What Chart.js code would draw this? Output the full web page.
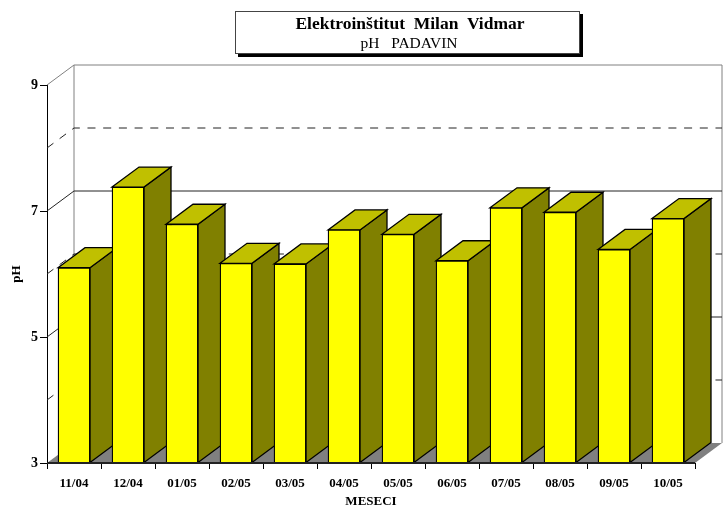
<!DOCTYPE html>
<html>
<head>
  <title>pH padavin</title>
  <script src="https://cdn.jsdelivr.net/npm/chart.js"></script>
  <style>
    body { margin: 0; background: #fff; }
    #wrap { position: relative; width: 723px; height: 509px; overflow: hidden; }
    #titleBox {
      position: absolute;
      left: 235px;
      top: 11px;
      width: 343px;
      height: 41px;
      border: 1px solid #444;
      background: #fff;
      box-shadow: 3px 3px 0 #000;
      text-align: center;
      font-family: "Liberation Serif", serif;
      color: #000;
      white-space: pre;
    }
    #titleBox .l1 { font-weight: bold; font-size: 17.5px; line-height: 20px; margin-top: 1px; padding-left: 5px; }
    #titleBox .l2 { font-size: 15.5px; line-height: 19px; word-spacing: 2px; padding-left: 3px; }
  </style>
</head>
<body>
  <div id="wrap">
    <div id="titleBox"><div class="l1">Elektroinštitut  Milan  Vidmar</div><div class="l2">pH  PADAVIN</div></div>
    <canvas id="chart" width="723" height="509"></canvas>
  </div>

  <script>
    const months = ['11/04', '12/04', '01/05', '02/05', '03/05', '04/05', '05/05', '06/05', '07/05', '08/05', '09/05', '10/05'];
    const phValues = [6.10, 7.38, 6.79, 6.17, 6.16, 6.70, 6.63, 6.21, 7.05, 6.98, 6.39, 6.88];
    const solidLines = [5, 7];
    const dashedLines = [4, 6, 8];

    // depth of the fake 3D box, in pixels
    const depthX = 27;
    const depthY = -20;

    function poly(ctx, pts, fill, stroke, lw) {
      ctx.beginPath();
      pts.forEach((p, i) => i ? ctx.lineTo(p[0], p[1]) : ctx.moveTo(p[0], p[1]));
      ctx.closePath();
      if (fill) { ctx.fillStyle = fill; ctx.fill(); }
      if (stroke) { ctx.strokeStyle = stroke; ctx.lineWidth = lw; ctx.stroke(); }
    }

    function wallLine(c, area, yPx, color, dash) {
      c.save();
      c.strokeStyle = color;
      c.lineWidth = 1;
      c.setLineDash(dash || []);
      c.beginPath();
      c.moveTo(area.left, yPx);
      c.lineTo(area.left + depthX, yPx + depthY);
      c.lineTo(area.right + depthX, yPx + depthY);
      c.stroke();
      c.restore();
    }

    const box3d = {
      id: 'box3d',
      beforeDatasetsDraw(chart) {
        const c = chart.ctx, a = chart.chartArea, y = chart.scales.y;
        const top = y.getPixelForValue(9), bottom = y.getPixelForValue(3);

        // floor
        poly(c, [[a.left, bottom], [a.left + depthX, bottom + depthY], [a.right + depthX, bottom + depthY], [a.right, bottom]], '#808080', null);

        // walls outline
        c.strokeStyle = '#808080';
        c.lineWidth = 1;
        c.beginPath();
        c.moveTo(a.left, top);
        c.lineTo(a.left + depthX, top + depthY);
        c.lineTo(a.right + depthX, top + depthY);
        c.lineTo(a.right + depthX, bottom + depthY);
        c.moveTo(a.left + depthX, top + depthY);
        c.lineTo(a.left + depthX, bottom + depthY);
        c.stroke();

        solidLines.forEach(v => wallLine(c, a, y.getPixelForValue(v), '#222'));
        dashedLines.forEach(v => wallLine(c, a, y.getPixelForValue(v), '#222', [8, 7.7]));

        // sides and tops of the bars, left to right
        chart.getDatasetMeta(0).data.forEach(bar => {
          const l = bar.x - bar.width / 2, r = bar.x + bar.width / 2;
          poly(c, [[r, bar.y], [r + depthX, bar.y + depthY], [r + depthX, bar.base + depthY], [r, bar.base]], '#808000', '#000', 1.3);
          poly(c, [[l, bar.y], [l + depthX, bar.y + depthY], [r + depthX, bar.y + depthY], [r, bar.y]], '#C0C000', '#000', 1.3);
        });
      },
      afterDatasetsDraw(chart) {
        const c = chart.ctx, a = chart.chartArea;
        c.strokeStyle = '#222';
        c.lineWidth = 2;
        c.beginPath();
        c.moveTo(a.left, a.bottom);
        c.lineTo(a.right, a.bottom);
        c.stroke();
      }
    };

    const chart = new Chart(document.getElementById('chart').getContext('2d'), {
      type: 'bar',
      data: {
        labels: months,
        datasets: [{
          data: phValues,
          base: 3,
          backgroundColor: '#FFFF00',
          borderColor: '#000',
          borderWidth: 1.3,
          barThickness: 32
        }]
      },
      options: {
        responsive: false,
        animation: false,
        layout: { padding: { top: 85, right: 28, left: 0, bottom: 0 } },
        plugins: { legend: { display: false }, tooltip: { enabled: false } },
        scales: {
          x: {
            afterFit: s => { s.height = 46; },
            grid: { drawOnChartArea: false, tickLength: 6, color: '#000', offset: true },
            border: { color: '#000', width: 1 },
            ticks: {
              color: '#000',
              maxRotation: 0,
              autoSkip: false,
              padding: 7,
              font: { family: 'Liberation Serif', size: 13, weight: 'bold' }
            },
            title: {
              display: true,
              text: 'MESECI',
              color: '#000',
              padding: { top: 8, bottom: 0 },
              font: { family: 'Liberation Serif', size: 13, weight: 'bold' }
            }
          },
          y: {
            min: 3,
            max: 9,
            afterFit: s => { s.width = 47; },
            grid: { drawOnChartArea: false, tickLength: 7, color: '#000' },
            border: { color: '#000', width: 1 },
            ticks: {
              stepSize: 2,
              color: '#000',
              padding: 2,
              font: { family: 'Liberation Serif', size: 14, weight: 'bold' }
            },
            title: {
              display: true,
              text: 'pH',
              color: '#000',
              padding: { top: 9, bottom: 0 },
              font: { family: 'Liberation Serif', size: 13, weight: 'bold' }
            }
          }
        }
      },
      plugins: [box3d]
    });
  </script>
</body>
</html>
